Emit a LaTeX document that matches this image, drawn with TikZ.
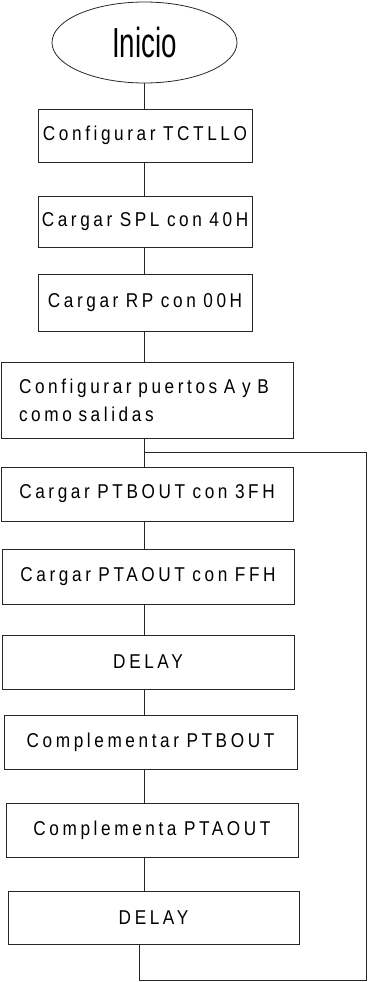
\documentclass[tikz,border=0pt]{standalone}
\usepackage{fontspec}
\setmainfont{Liberation Sans}
\newfontfamily\boxfont[FakeStretch=0.86,LetterSpace=18]{Liberation Sans}
\newfontfamily\startfont[FakeStretch=0.66]{Liberation Sans}
\usetikzlibrary{shapes.geometric}
\begin{document}
\begin{tikzpicture}[x=1pt,y=-1pt,
  line/.style={draw=black!85,line width=0.8pt},
  stepbox/.style={line,rectangle,inner sep=0pt,font={\boxfont\fontsize{20}{28}\selectfont\spaceskip=7.5pt plus 1pt\relax}},
  startshape/.style={line,ellipse,inner sep=0pt,minimum width=185pt,minimum height=81pt,font=\startfont\fontsize{42}{48}\selectfont}]
\useasboundingbox (0,0) rectangle (368,982);
\node[startshape] (start) at (144.5,42.5) {\raisebox{-3pt}{Inicio}};
\node[stepbox,minimum width=214pt,minimum height=53pt] (b1) at (145,135.5) {Configurar TCTLLO};
\node[stepbox,minimum width=214pt,minimum height=51pt] (b2) at (145,221.5) {Cargar SPL con 40H};
\node[stepbox,minimum width=214pt,minimum height=57pt] (b3) at (145,302.5) {Cargar RP con 00H};
\node[stepbox,minimum width=292pt,minimum height=76pt,text width=256pt,align=left,inner xsep=18pt] (b4) at (147,400) {Configurar puertos A y B\\como salidas};
\node[stepbox,minimum width=292pt,minimum height=54pt] (b5) at (147,494) {Cargar PTBOUT con 3FH};
\node[stepbox,minimum width=292pt,minimum height=55pt] (b6) at (148,576.5) {Cargar PTAOUT con FFH};
\node[stepbox,minimum width=292pt,minimum height=54pt] (b7) at (148,662) {DELAY};
\node[stepbox,minimum width=293pt,minimum height=54pt] (b8) at (150.5,742) {Complementar PTBOUT};
\node[stepbox,minimum width=292pt,minimum height=54pt] (b9) at (152,830) {Complementa PTAOUT};
\node[stepbox,minimum width=291pt,minimum height=53pt] (b10) at (153.5,917.5) {DELAY};
\coordinate (ax) at (144,0);
\coordinate (jn) at (144,452);
\coordinate (lx) at (139,0);
\coordinate (rb) at (366.5,980);
\draw[line] (ax |- start.south) -- (ax |- b1.north);
\draw[line] (ax |- b1.south) -- (ax |- b2.north);
\draw[line] (ax |- b2.south) -- (ax |- b3.north);
\draw[line] (ax |- b3.south) -- (ax |- b4.north);
\draw[line] (ax |- b4.south) -- (ax |- b5.north);
\draw[line] (ax |- b5.south) -- (ax |- b6.north);
\draw[line] (ax |- b6.south) -- (ax |- b7.north);
\draw[line] (ax |- b7.south) -- (ax |- b8.north);
\draw[line] (ax |- b8.south) -- (ax |- b9.north);
\draw[line] (ax |- b9.south) -- (ax |- b10.north);
\draw[line] (lx |- b10.south) -- (lx |- rb) -- (rb) -- (rb |- jn) -- (jn);
\end{tikzpicture}
\end{document}
